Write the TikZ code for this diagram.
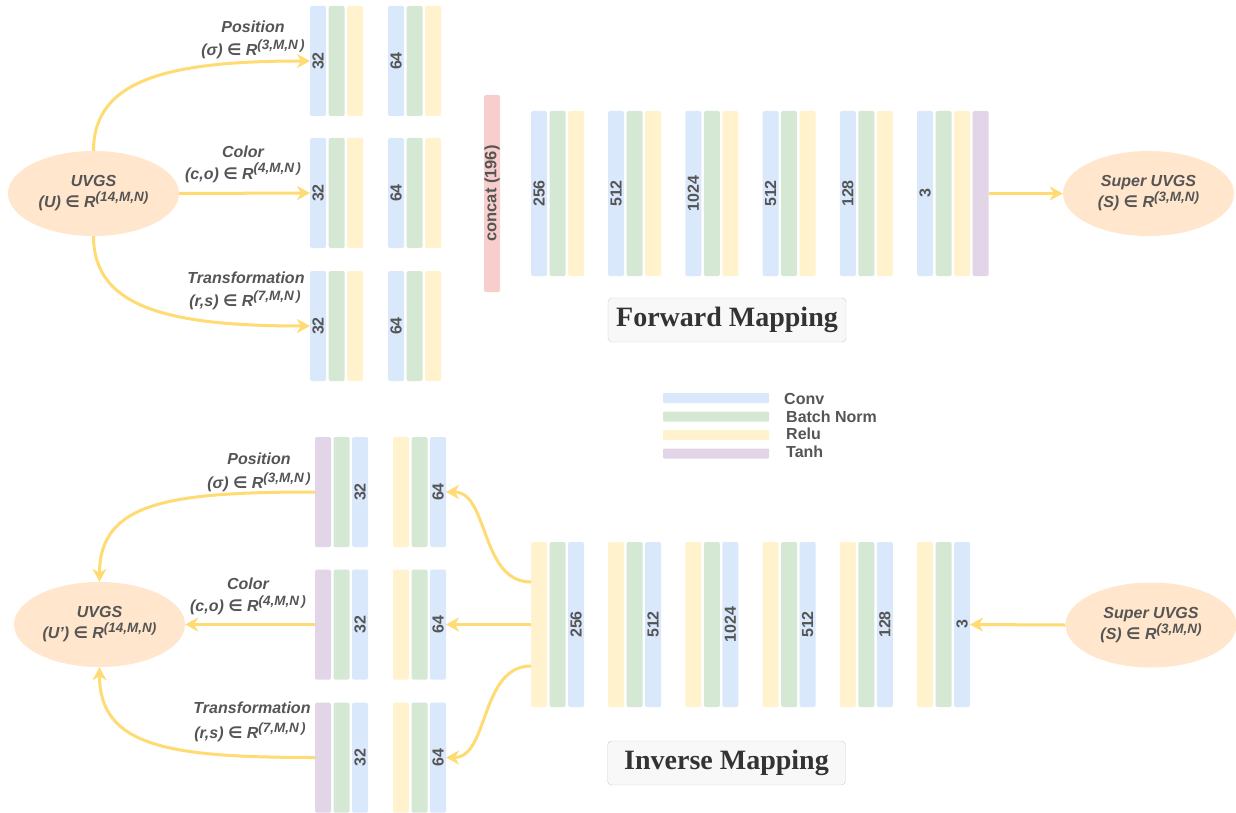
\documentclass[tikz,border=0pt]{standalone}
\usepackage{fontspec}
\setmainfont{Liberation Sans}
\newfontfamily\serifbf{Liberation Serif}
\newfontfamily\symf{DejaVu Sans}
\usetikzlibrary{arrows.meta,shapes.geometric}
\definecolor{cblue}{HTML}{DAE8FC}
\definecolor{cgreen}{HTML}{D5E8D4}
\definecolor{cyellow}{HTML}{FFF2CC}
\definecolor{cpurple}{HTML}{E1D5E7}
\definecolor{cpink}{HTML}{F8CECC}
\definecolor{corange}{HTML}{FFE6CC}
\definecolor{carrow}{HTML}{FFDB73}
\definecolor{ctext}{HTML}{555555}
\definecolor{cboxline}{HTML}{D0D0D0}
\definecolor{cboxfill}{HTML}{F8F8F8}
\newcommand{\elt}{{\symf\bfseries\upshape ∈}}
\newcommand{\supx}[1]{\raisebox{6pt}{\fontsize{13.5}{13.5}\selectfont #1}}
\tikzset{
  bar/.style={rounded corners=1.5pt, minimum width=16pt, inner sep=0pt, outer sep=0pt},
  num/.style={rotate=90, text=ctext, font=\fontsize{16}{16}\selectfont\bfseries, inner sep=0pt},
  lbl/.style={anchor=base, text=ctext, font=\fontsize{16}{16}\selectfont\bfseries\itshape, inner sep=0pt},
  ell/.style={ellipse, fill=corange, minimum width=171pt, minimum height=85pt, inner sep=0pt, align=center, text=ctext, font=\fontsize{16}{21}\selectfont\bfseries\itshape},
  conn/.style={draw=carrow, line width=3pt, -{Stealth[length=13pt,width=14pt,inset=4pt]}},
  titlebox/.style={draw=cboxline, fill=cboxfill, rounded corners=4pt, minimum width=238pt, minimum height=44pt, inner sep=0pt, font=\serifbf\bfseries\fontsize{28}{28}\selectfont, text=black!80},
  legbar/.style={minimum width=106pt, minimum height=10pt, inner sep=0pt, rounded corners=1pt},
  legtxt/.style={anchor=west, text=ctext, font=\fontsize{16}{16}\selectfont\bfseries, inner sep=0pt}
}
\begin{document}
\begin{tikzpicture}[x=1pt,y=-1pt]
\fill[white] (0,0) rectangle (1236,813);
\useasboundingbox (0,0) rectangle (1236,813);

% ---------- Forward: input branches ----------
\foreach \r/\y in {1/61,2/193,3/326}{
  \foreach \c/\xs/\n in {1/310/32,2/388/64}{
    \node[bar,fill=cblue,minimum height=110pt] (tb\r\c) at (\xs+8,\y) {};
    \node[bar,fill=cgreen,minimum height=110pt] (tg\r\c) at (\xs+26.5,\y) {};
    \node[bar,fill=cyellow,minimum height=110pt] (ty\r\c) at (\xs+45,\y) {};
    \node[num] (tn\r\c) at (tb\r\c) {\n};
  }
}
% concat
\node[bar,fill=cpink,minimum height=197pt] (cat) at (492,193.5) {};
\node[num,font=\fontsize{16.5}{16.5}\selectfont\bfseries] (catt) at (cat) {concat (196)};
% forward groups
\foreach \k/\n in {1/256,2/512,3/1024,4/512,5/128,6/3}{
  \pgfmathsetmacro{\xs}{531+77.2*(\k-1)}
  \node[bar,fill=cblue,minimum height=165pt] (fb\k) at (\xs+8,193.5) {};
  \node[bar,fill=cgreen,minimum height=165pt] (fg\k) at (\xs+26.5,193.5) {};
  \node[bar,fill=cyellow,minimum height=165pt] (fy\k) at (\xs+45,193.5) {};
  \node[num] (fn\k) at (fb\k) {\n};
}
\node[bar,fill=cpurple,minimum height=165pt] (fp) at (980.5,193.5) {};

% ellipses
\node[ell] (U) at (93.5,193.5) {UVGS\\(U) \elt{} R\supx{(14,M,N)}};
\node[ell] (S) at (1148.5,193.5) {Super UVGS\\(S) \elt{} R\supx{(3,M,N)}};

% labels top
\node[lbl] (lp1) at (253,33) {Position};
\node[lbl] (lp2) at (253,56) {(σ) \elt{} R\supx{(3,M,N\,)}};
\node[lbl] (lc1) at (243,158) {Color};
\node[lbl] (lc2) at (243,179) {(c,o) \elt{} R\supx{(4,M,N\,)}};
\node[lbl] (lt1) at (246,283) {Transformation};
\node[lbl] (lt2) at (245,306) {(r,s) \elt{} R\supx{(7,M,N\,)}};

% connectors top
\draw[conn] (U.north) .. controls +(0,-72) and +(-140,0) .. (tb11.west);
\draw[conn] (U.east) -- (tb21.west);
\draw[conn] (U.south) .. controls +(0,72) and +(-140,0) .. (tb31.west);
\draw[conn] (fp.east) -- (S.west);

% title boxes
\node[titlebox] (fwd) at (727,320) {Forward Mapping};
\node[titlebox] (inv) at (726.5,763) {Inverse Mapping};

% legend
\node[legbar,fill=cblue] (lg1) at (716,398) {};
\node[legbar,fill=cgreen] (lg2) at (716,416.5) {};
\node[legbar,fill=cyellow] (lg3) at (716,435) {};
\node[legbar,fill=cpurple] (lg4) at (716,453.5) {};
\node[legtxt] (lgt1) at (784,399) {Conv};
\node[legtxt] (lgt2) at (786,417) {Batch Norm};
\node[legtxt] (lgt3) at (786,434) {Relu};
\node[legtxt] (lgt4) at (786,452) {Tanh};

% ---------- Inverse ----------
\foreach \r/\y in {1/492,2/624.5,3/757.5}{
  \foreach \c/\xs/\n/\cf in {1/315/32/cpurple,2/393/64/cyellow}{
    \node[bar,fill=\cf,minimum height=110pt] (bf\r\c) at (\xs+8,\y) {};
    \node[bar,fill=cgreen,minimum height=110pt] (bg\r\c) at (\xs+26.5,\y) {};
    \node[bar,fill=cblue,minimum height=110pt] (bb\r\c) at (\xs+45,\y) {};
    \node[num] (bn\r\c) at (bb\r\c) {\n};
  }
}
\foreach \k/\n in {1/256,2/512,3/1024,4/512,5/128,6/3}{
  \pgfmathsetmacro{\xs}{531+77.2*(\k-1)}
  \node[bar,fill=cyellow,minimum height=165pt] (iy\k) at (\xs+8,624.5) {};
  \node[bar,fill=cgreen,minimum height=165pt] (ig\k) at (\xs+26.5,624.5) {};
  \node[bar,fill=cblue,minimum height=165pt] (ib\k) at (\xs+45,624.5) {};
  \node[num] (inum\k) at (ib\k) {\n};
}

\node[ell] (U2) at (99.5,624.5) {UVGS\\(U\char"0027) \elt{} R\supx{(14,M,N)}};
\node[ell] (S2) at (1151,625) {Super UVGS\\(S) \elt{} R\supx{(3,M,N)}};

% labels bottom
\node[lbl] (blp1) at (259,464) {Position};
\node[lbl] (blp2) at (259,488) {(σ) \elt{} R\supx{(3,M,N\,)}};
\node[lbl] (blc1) at (248,589) {Color};
\node[lbl] (blc2) at (248,611) {(c,o) \elt{} R\supx{(4,M,N\,)}};
\node[lbl] (blt1) at (252,713) {Transformation};
\node[lbl] (blt2) at (250,738) {(r,s) \elt{} R\supx{(7,M,N\,)}};

% connectors bottom
\draw[conn] (bf11.west) .. controls +(-145,0) and +(0,-80) .. (U2.north);
\draw[conn] (bf21.west) -- (U2.east);
\draw[conn] (bf31.west) .. controls +(-145,0) and +(0,80) .. (U2.south);
\draw[conn] (S2.west) -- (ib6.east);
\draw[conn] ([yshift=42.5pt]iy1.west) .. controls +(-51,0) and +(43,0) .. (bb12.east);
\draw[conn] (iy1.west) -- (bb22.east);
\draw[conn] ([yshift=-41.5pt]iy1.west) .. controls +(-51,0) and +(43,0) .. (bb32.east);
\end{tikzpicture}
\end{document}
